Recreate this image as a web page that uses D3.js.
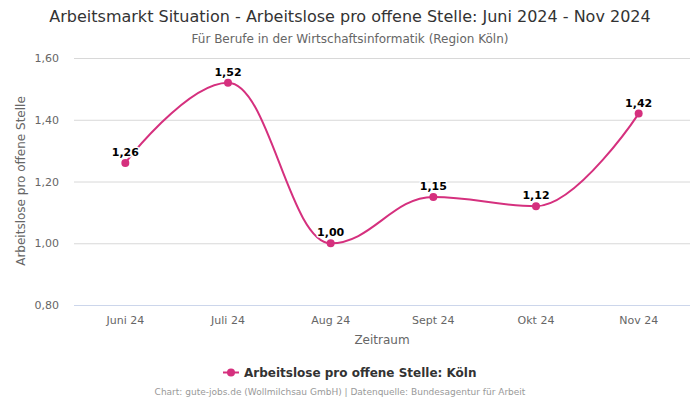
<!DOCTYPE html>
<html><head><meta charset="utf-8">
<script src="https://cdn.jsdelivr.net/npm/d3@7"></script>
<style>body{margin:0;background:#fff;font-family:"DejaVu Sans",sans-serif;}</style>
</head><body><svg id="c" width="700" height="400"></svg>
<script>
const categories = ["Juni 24","Juli 24","Aug 24","Sept 24","Okt 24","Nov 24"];
const values = [1.26,1.52,1.00,1.15,1.12,1.42];
const yTicks = [0.8,1.0,1.2,1.4,1.6];
const seriesName = "Arbeitslose pro offene Stelle: Köln";
const color = "#d5307e";

const svg = d3.select("#c");
const fmt = v => d3.format(".2f")(v).replace(".", ",");
const x = d3.scaleBand().domain(categories).range([74, 690]);
const y = d3.scaleLinear().domain([0.8,1.6]).range([305, 58]);

svg.append("text").attr("x",350).attr("y",22).attr("text-anchor","middle")
  .attr("font-size",16).attr("fill","#333").text("Arbeitsmarkt Situation - Arbeitslose pro offene Stelle: Juni 2024 - Nov 2024");
svg.append("text").attr("x",350).attr("y",43).attr("text-anchor","middle")
  .attr("font-size",12).attr("fill","#666").text("Für Berufe in der Wirtschaftsinformatik (Region Köln)");

// grid
svg.append("g").selectAll("line").data(yTicks).join("line")
  .attr("x1",74).attr("x2",690).attr("y1",d=>y(d)+0.5).attr("y2",d=>y(d)+0.5)
  .attr("stroke",d=>d===0.8?"#ccd6eb":"#d8d8d8").attr("stroke-width",1);
svg.append("g").selectAll("text").data(yTicks).join("text")
  .attr("x",59).attr("y",d=>y(d)+4).attr("text-anchor","end")
  .attr("font-size",11).attr("fill","#666").text(fmt);
svg.append("g").selectAll("text").data(categories).join("text")
  .attr("x",d=>x(d)+x.bandwidth()/2).attr("y",324).attr("text-anchor","middle")
  .attr("font-size",11).attr("fill","#666").text(d=>d);
svg.append("text").attr("x",382).attr("y",344).attr("text-anchor","middle")
  .attr("font-size",12).attr("fill","#666").text("Zeitraum");
svg.append("text").attr("transform","translate(25,181) rotate(-90)").attr("text-anchor","middle")
  .attr("font-size",12).attr("fill","#666").text("Arbeitslose pro offene Stelle");

// Highcharts-like spline
const pts = values.map((v,i)=>({x:x(categories[i])+x.bandwidth()/2, y:y(v)}));
const sm = 1.5, den = sm+1;
let path = "";
pts.forEach((p,i)=>{
  if(i===0){ path += `M${p.x},${p.y}`; return; }
  const last = pts[i-1], next = pts[i+1];
  let lcx, lcy;
  if(next){
    lcx = (sm*p.x+last.x)/den; lcy = (sm*p.y+last.y)/den;
    let rcx = (sm*p.x+next.x)/den, rcy = (sm*p.y+next.y)/den;
    let corr = 0;
    if(rcx!==lcx) corr = ((rcy-lcy)*(rcx-p.x))/(rcx-lcx)+p.y-rcy;
    lcy += corr; rcy += corr;
    if(lcy>last.y && lcy>p.y){ lcy=Math.max(last.y,p.y); rcy=2*p.y-lcy; }
    else if(lcy<last.y && lcy<p.y){ lcy=Math.min(last.y,p.y); rcy=2*p.y-lcy; }
    if(rcy>next.y && rcy>p.y){ rcy=Math.max(next.y,p.y); lcy=2*p.y-rcy; }
    else if(rcy<next.y && rcy<p.y){ rcy=Math.min(next.y,p.y); lcy=2*p.y-rcy; }
    p.rcx=rcx; p.rcy=rcy;
  }
  const c1x = last.rcx!==undefined?last.rcx:last.x, c1y = last.rcy!==undefined?last.rcy:last.y;
  const c2x = lcx!==undefined?lcx:p.x, c2y = lcy!==undefined?lcy:p.y;
  path += `C${c1x},${c1y},${c2x},${c2y},${p.x},${p.y}`;
});
svg.append("path").attr("d",path).attr("fill","none").attr("stroke",color).attr("stroke-width",2);
svg.append("g").selectAll("circle").data(pts).join("circle")
  .attr("cx",d=>d.x).attr("cy",d=>d.y).attr("r",4).attr("fill",color);
svg.append("g").selectAll("text").data(values).join("text")
  .attr("x",(d,i)=>pts[i].x).attr("y",(d,i)=>pts[i].y-7).attr("text-anchor","middle")
  .attr("font-size",11).attr("font-weight","bold").attr("fill","#000")
  .attr("stroke","#fff").attr("stroke-width",3).attr("paint-order","stroke").attr("stroke-linejoin","round")
  .text(fmt);

// legend
const lg = svg.append("g");
lg.append("line").attr("x1",223).attr("x2",239).attr("y1",372.5).attr("y2",372.5).attr("stroke",color).attr("stroke-width",2);
lg.append("circle").attr("cx",231).attr("cy",372.5).attr("r",4).attr("fill",color);
lg.append("text").attr("x",244).attr("y",377).attr("font-size",12).attr("font-weight","bold").attr("fill","#333").text(seriesName);
svg.append("text").attr("x",340).attr("y",395).attr("text-anchor","middle")
  .attr("font-size",9).attr("fill","#999").text("Chart: gute-jobs.de (Wollmilchsau GmbH) | Datenquelle: Bundesagentur für Arbeit");
</script></body></html>
